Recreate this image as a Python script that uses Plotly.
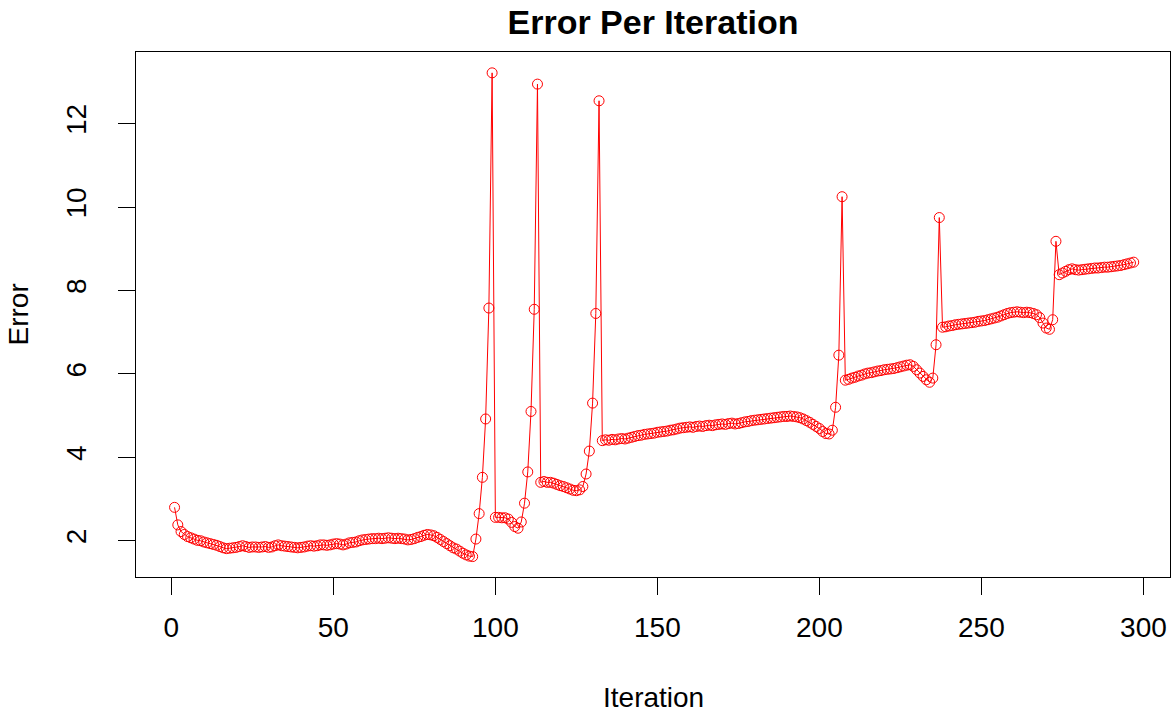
import plotly.graph_objects as go

# ---- data ----
error_start = [2.80, 2.38, 2.22, 2.15, 2.10, 2.07, 2.04, 2.01, 2.00, 1.97,
               1.95, 1.93, 1.91, 1.89, 1.86, 1.83, 1.81, 1.82, 1.83, 1.84,
               1.86, 1.88, 1.86, 1.84, 1.85, 1.85, 1.84, 1.85, 1.86, 1.84,
               1.85, 1.88, 1.90, 1.88, 1.87, 1.86, 1.85, 1.84, 1.83, 1.84,
               1.85, 1.87, 1.88, 1.87, 1.88, 1.90, 1.90, 1.89, 1.90, 1.92,
               1.93, 1.92, 1.90, 1.92, 1.95, 1.96, 1.97, 2.00, 2.02, 2.03,
               2.04, 2.05, 2.05, 2.06, 2.05, 2.06, 2.07, 2.06, 2.05, 2.06,
               2.05, 2.04, 2.02, 2.03, 2.05, 2.08, 2.10, 2.13, 2.15, 2.14,
               2.12, 2.08, 2.03, 1.98, 1.93, 1.88, 1.83, 1.80, 1.75, 1.70,
               1.66, 1.63, 1.62]
error_spikes_a = [2.04, 2.65, 3.52, 4.92, 7.58, 13.22, 2.56,
                  2.56, 2.55, 2.55, 2.52, 2.44, 2.34, 2.30, 2.45, 2.90, 3.65,
                  5.10, 7.55, 12.95, 3.40, 3.42, 3.40, 3.40, 3.38, 3.35, 3.32,
                  3.30, 3.27, 3.24, 3.21, 3.20, 3.22, 3.30, 3.60, 4.15, 5.30,
                  7.45, 12.55]
error_mid = [4.40, 4.42, 4.41, 4.43, 4.42, 4.44, 4.45, 4.44,
             4.46, 4.48, 4.50, 4.52, 4.53, 4.55, 4.56, 4.57, 4.58, 4.60,
             4.61, 4.62, 4.63, 4.65, 4.66, 4.68, 4.70, 4.71, 4.72, 4.73,
             4.72, 4.74, 4.75, 4.74, 4.76, 4.77, 4.76, 4.78, 4.79, 4.80,
             4.79, 4.81, 4.82, 4.80, 4.81, 4.83, 4.85, 4.86, 4.88, 4.89,
             4.90, 4.91, 4.92, 4.93, 4.94, 4.95, 4.96, 4.97, 4.98, 4.98,
             4.99, 4.98, 4.97, 4.95, 4.92, 4.88, 4.84, 4.79, 4.74, 4.69,
             4.62, 4.57, 4.56, 4.65, 5.20, 6.45, 10.25]
error_late = [5.85, 5.87, 5.90,
              5.92, 5.95, 5.97, 6.00, 6.02, 6.03, 6.05, 6.07, 6.08, 6.10,
              6.11, 6.12, 6.13, 6.15, 6.17, 6.19, 6.21, 6.22, 6.18, 6.10,
              6.02, 5.94, 5.86, 5.80, 5.90, 6.70, 9.75, 7.12, 7.13, 7.15,
              7.16, 7.18, 7.19, 7.20, 7.21, 7.22, 7.23, 7.24, 7.26, 7.27,
              7.28, 7.30, 7.32, 7.34, 7.36, 7.39, 7.42, 7.45, 7.47, 7.48,
              7.49, 7.48, 7.47, 7.48, 7.47, 7.45, 7.42, 7.35, 7.22, 7.10,
              7.07, 7.30, 9.18, 8.38, 8.42, 8.46, 8.50, 8.52, 8.50, 8.49,
              8.50, 8.51, 8.52, 8.53, 8.54, 8.54, 8.55, 8.56, 8.56, 8.57,
              8.58, 8.59, 8.60, 8.62, 8.64, 8.66, 8.68]

error = error_start + error_spikes_a + error_mid + error_late
iterations = list(range(1, len(error) + 1))

x_ticks = [0, 50, 100, 150, 200, 250, 300]
y_ticks = [2, 4, 6, 8, 10, 12]

FONT = "Liberation Sans, Arial, sans-serif"

fig = go.Figure(
    go.Scatter(
        x=iterations, y=error, mode="lines+markers",
        line=dict(color="#FF0000", width=1),
        marker=dict(symbol="circle-open", size=10, color="#FF0000",
                    line=dict(width=1, color="#FF0000")),
        showlegend=False,
    )
)

axis_common = dict(
    showgrid=False, zeroline=False, showline=True, mirror=True,
    linecolor="black", linewidth=1, ticks="outside", ticklen=17,
    tickwidth=1, tickcolor="black",
    tickfont=dict(family=FONT, size=28, color="black"),
)

fig.update_layout(
    width=1171, height=715,
    margin=dict(l=136, r=1, t=52, b=138),
    paper_bgcolor="white", plot_bgcolor="white",
    font=dict(family=FONT, size=28, color="black"),
    title=dict(text="<b>Error Per Iteration</b>", x=0.5, xref="paper",
               xanchor="center", y=1 - 22 / 715, yref="container",
               yanchor="middle", font=dict(family=FONT, size=34, color="black")),
    xaxis=dict(range=[-10.9, 308.2], tickvals=x_ticks, ticklabelstandoff=8,
               **axis_common),
    yaxis=dict(range=[1.13, 13.72], tickvals=y_ticks, tickangle=-90,
               ticklabelstandoff=21, **axis_common),
    annotations=[
        dict(text="Iteration", xref="paper", yref="paper", x=0.5, y=0,
             xanchor="center", yanchor="middle", yshift=-120, showarrow=False,
             font=dict(family=FONT, size=28, color="black")),
        dict(text="Error", xref="paper", yref="paper", x=0, y=0.5,
             xanchor="center", yanchor="middle", xshift=-118, textangle=-90,
             showarrow=False, font=dict(family=FONT, size=28, color="black")),
    ],
)

fig.write_html("out.html")
